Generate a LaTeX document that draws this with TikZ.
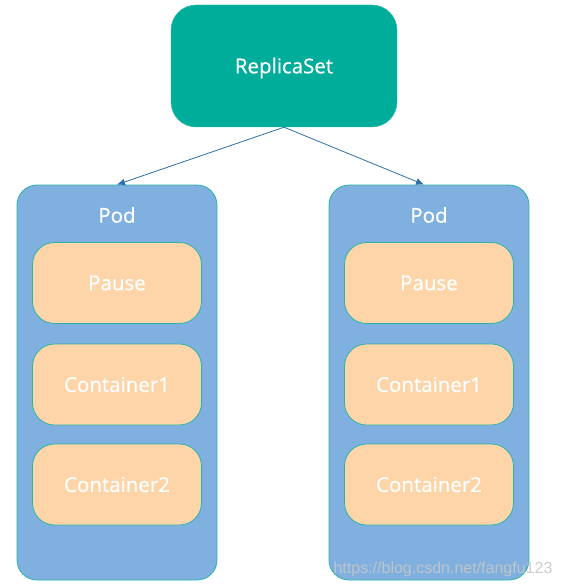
\documentclass[tikz,border=0pt]{standalone}
\usepackage{fontspec}
\setmainfont{Open Sans}
\newfontfamily\lblfont[BoldFont={Open Sans},BoldFeatures={FakeBold=0.6}]{Open Sans}
\newfontfamily\wmfont{Liberation Sans}
\usetikzlibrary{arrows.meta,positioning}
\definecolor{rsteal}{HTML}{00AC9A}
\definecolor{podblue}{HTML}{7FB0DF}
\definecolor{ctrorange}{HTML}{FDD5A9}
\definecolor{edgeteal}{HTML}{2BB3A8}
\definecolor{arrowblue}{HTML}{2F6EA6}

\begin{document}
\begin{tikzpicture}[>={Latex[length=8pt,width=7pt]}, x=1pt, y=-1pt,
  rsbox/.style={draw=rsteal!80!white, fill=rsteal, rounded corners=25pt,
    minimum width=226pt, minimum height=122pt, text=white,
    font=\lblfont\bfseries\fontsize{20.5}{22}\selectfont},
  podbox/.style={draw=edgeteal, line width=0.8pt, fill=podblue, rounded corners=20pt,
    minimum width=200pt, minimum height=395pt},
  ctrbox/.style={draw=edgeteal, line width=0.8pt, fill=ctrorange, rounded corners=22pt,
    minimum width=169pt, minimum height=81pt, text=white,
    font=\lblfont\bfseries\fontsize{20.5}{22}\selectfont},
  podlabel/.style={text=white, font=\lblfont\bfseries\fontsize{20.5}{22}\selectfont}]
\useasboundingbox (0,0) rectangle (560,588);

% replica set
\node[rsbox] (rs) at (284,66) {};
\node[text=white, font=\lblfont\bfseries\fontsize{20.5}{22}\selectfont]
  (rsname) at (284,68) {ReplicaSet};

% pods with their containers
\foreach \side/\cx in {L/117,R/429} {
  \node[podbox] (pod\side) at (\cx,382.5) {};
  \node[podlabel] (podname\side) at (\cx,215) {Pod};
  \node[ctrbox] (pause\side) at (\cx,283) {Pause};
  \node[ctrbox] (ctrone\side) at (\cx,384.5) {Container1};
  \node[ctrbox] (ctrtwo\side) at (\cx,484.5) {Container2};
}

% replica set owns the pods
\draw[->, arrowblue, line width=0.8pt] (rs.south) -- (podL.north);
\draw[->, arrowblue, line width=0.8pt] (rs.south) -- ([xshift=-5pt]podR.north);

% watermark
\node[text=white!78!black, opacity=.9, font=\wmfont\fontsize{16}{18}\selectfont]
  (mark) at (443,569) {https://blog.csdn.net/fangfu123};
\end{tikzpicture}
\end{document}
